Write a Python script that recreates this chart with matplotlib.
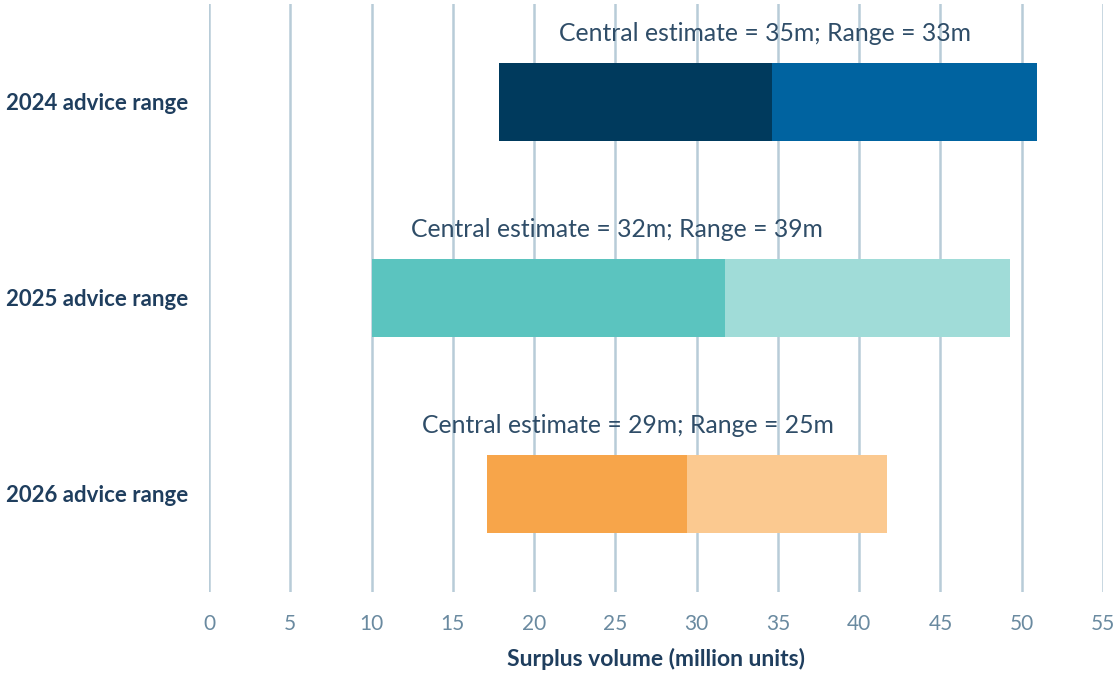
import matplotlib
matplotlib.use("Agg")
import matplotlib.pyplot as plt

plt.rcParams['font.family'] = ['Lato', 'DejaVu Sans']

categories = ['2024 advice range', '2025 advice range', '2026 advice range']
low = [17.85, 10.0, 17.1]
central = [34.65, 31.75, 29.4]
high = [50.95, 49.3, 41.7]
labels = ['Central estimate = 35m; Range = 33m',
          'Central estimate = 32m; Range = 39m',
          'Central estimate = 29m; Range = 25m']
label_x = [34.2, 25.1, 25.8]

dark_cols = ['#003A5D', '#5BC4BF', '#F7A54A']
light_cols = ['#0063A0', '#A0DCD8', '#FBC990']

fig = plt.figure(figsize=(11.13, 6.73), dpi=100)
ax = fig.add_axes([209 / 1113, 1 - 592 / 673, (1103 - 209) / 1113, (592 - 4) / 673])

y = range(len(categories))
ax.barh(y, [c - l for c, l in zip(central, low)], left=low, height=0.4, color=dark_cols, zorder=3)
ax.barh(y, [h - c for h, c in zip(high, central)], left=central, height=0.4, color=light_cols, zorder=3)

for i, txt in enumerate(labels):
    ax.text(label_x[i], i - 0.35, txt, ha='center', va='center', fontsize=17.8,
            color='#2F4D68', zorder=4)

ax.set_xlim(0, 55)
ax.set_ylim(2.5, -0.5)
ax.set_xticks(range(0, 56, 5))
ax.set_yticks(list(y))
ax.set_yticklabels(categories, fontsize=16, fontweight='bold', color='#1F3E5E')
ax.tick_params(axis='y', length=0, pad=15)
ax.tick_params(axis='x', length=0, pad=16, labelsize=15, labelcolor='#6A8AA0')
ax.grid(axis='x', color='#B8CCD8', linewidth=1.8, zorder=0)
for s in ax.spines.values():
    s.set_visible(False)
ax.set_xlabel('Surplus volume (million units)', fontsize=16.5, fontweight='bold',
              color='#1F3E5E', labelpad=10)

fig.savefig('out.png', dpi=100)
